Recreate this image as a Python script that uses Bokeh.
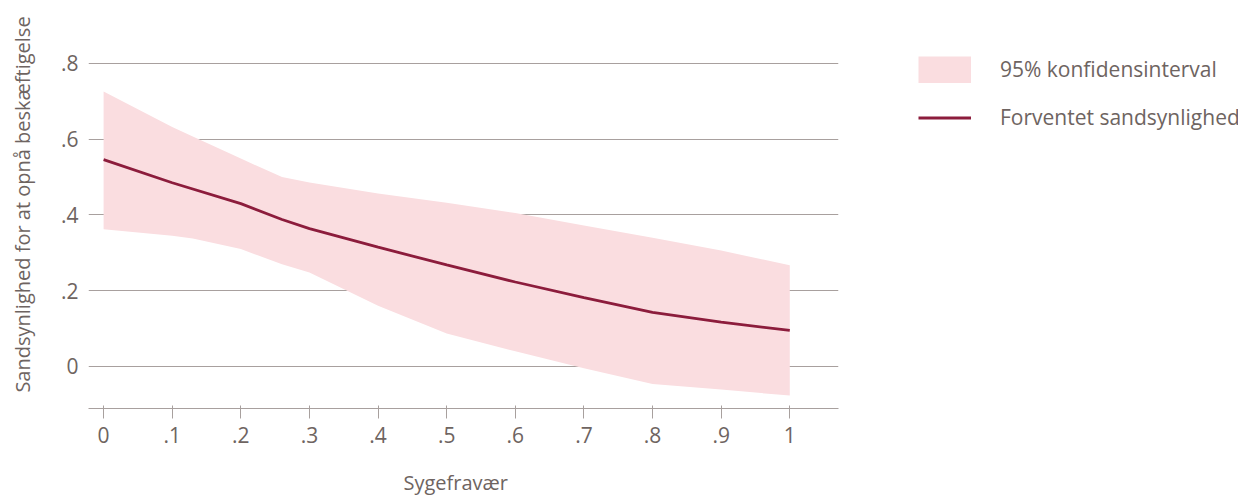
from bokeh.plotting import figure
from bokeh.models import FixedTicker, Legend, LegendItem, Range1d
from bokeh.embed import file_html
from bokeh.resources import INLINE

# Data
x_band = [0.0, 0.1, 0.13, 0.2, 0.26, 0.3, 0.4, 0.5, 0.6, 0.7, 0.8, 0.9, 1.0]
upper = [0.726, 0.632, 0.607, 0.549, 0.500, 0.486, 0.457, 0.432, 0.405, 0.372, 0.340, 0.306, 0.267]
lower = [0.362, 0.345, 0.338, 0.310, 0.270, 0.248, 0.160, 0.087, 0.040, -0.005, -0.046, -0.061, -0.077]

x_line = [0.0, 0.1, 0.2, 0.26, 0.3, 0.4, 0.5, 0.6, 0.7, 0.8, 0.9, 1.0]
y_line = [0.546, 0.485, 0.430, 0.388, 0.364, 0.315, 0.268, 0.223, 0.182, 0.143, 0.117, 0.095]

x_ticks = [0, 0.1, 0.2, 0.3, 0.4, 0.5, 0.6, 0.7, 0.8, 0.9, 1]
x_tick_labels = ["0", ".1", ".2", ".3", ".4", ".5", ".6", ".7", ".8", ".9", "1"]
y_ticks = [0, 0.2, 0.4, 0.6, 0.8]
y_tick_labels = ["0", ".2", ".4", ".6", ".8"]

x_title = "Sygefravær"
y_title = "Sandsynlighed for at opnå beskæftigelse"
legend_labels = ["95% konfidensinterval", "Forventet sandsynlighed"]

TEXT = "#6e6461"
GRID = "#a8a09e"
BAND = "#fadde0"
LINE = "#8c1c3c"
FONT = "Open Sans"

p = figure(
    frame_width=750, frame_height=408,
    min_border_left=88, min_border_right=392, min_border_top=0, min_border_bottom=91,
    x_range=Range1d(-0.022, 1.071), y_range=Range1d(-0.111, 0.9663),
    output_backend="svg", toolbar_location=None,
)
p.outline_line_color = None
p.background_fill_color = "white"
p.border_fill_color = "white"

band = p.varea(x=x_band, y1=lower, y2=upper, fill_color=BAND)
line = p.line(x=x_line, y=y_line, line_color=LINE, line_width=2.8)
# hidden legend key for the band (full-size swatch like the reference)
band_key = p.line(x=x_band, y=upper, line_color=BAND, line_width=27, visible=False)

# x axis
xa = p.xaxis[0]
xa.ticker = FixedTicker(ticks=x_ticks)
xa.major_label_overrides = {t: l for t, l in zip(x_ticks, x_tick_labels)}
xa.minor_tick_line_color = None
xa.axis_line_color = GRID
xa.major_tick_line_color = GRID
xa.major_tick_in = 3
xa.major_tick_out = 10
xa.major_label_standoff = 8
xa.major_label_text_font = FONT
xa.major_label_text_font_size = "21px"
xa.major_label_text_color = TEXT
# trailing no-break spaces move the centred title onto the 0..1 tick span
xa.axis_label = x_title + "\u00a0\u00a0\u00a0"
xa.axis_label_text_font = FONT
xa.axis_label_text_font_size = "20px"
xa.axis_label_text_font_style = "normal"
xa.axis_label_text_color = TEXT
xa.axis_label_standoff = 23

# y axis
ya = p.yaxis[0]
ya.ticker = FixedTicker(ticks=y_ticks)
ya.major_label_overrides = {t: l for t, l in zip(y_ticks, y_tick_labels)}
ya.minor_tick_line_color = None
ya.major_tick_line_color = None
ya.axis_line_color = None
ya.major_tick_in = 0
ya.major_tick_out = 0
ya.major_label_standoff = 10
ya.major_label_text_font = FONT
ya.major_label_text_font_size = "21px"
ya.major_label_text_color = TEXT
ya.axis_label = y_title
ya.axis_label_text_font = FONT
ya.axis_label_text_font_size = "20px"
ya.axis_label_text_font_style = "normal"
ya.axis_label_text_color = TEXT
ya.axis_label_standoff = 22

p.xgrid.grid_line_color = None
p.ygrid.ticker = FixedTicker(ticks=y_ticks)
p.ygrid.grid_line_color = GRID
p.ygrid.grid_line_width = 1

legend = Legend(
    items=[LegendItem(label=legend_labels[0], renderers=[band_key]),
           LegendItem(label=legend_labels[1], renderers=[line])],
    location=(80, 277),
    glyph_width=53, glyph_height=27, label_standoff=29, spacing=20,
    padding=10, margin=0,
    label_text_font=FONT, label_text_font_size="21px", label_text_color=TEXT,
    border_line_color=None, background_fill_alpha=0,
)
p.add_layout(legend, "right")

open("out.html", "w").write(file_html(p, INLINE))
